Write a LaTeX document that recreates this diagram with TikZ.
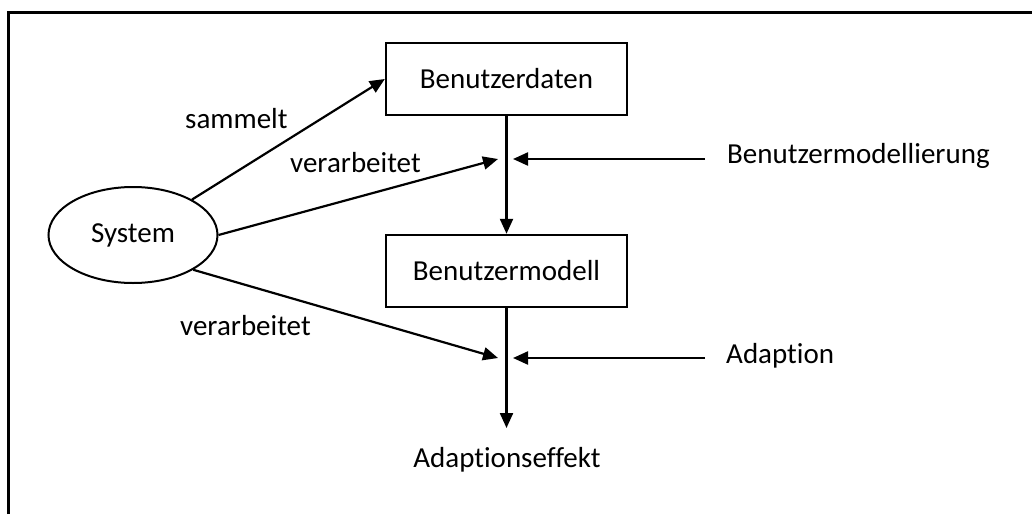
\documentclass[tikz,border=0pt]{standalone}
\usepackage{fontspec}
\setmainfont[Ligatures={NoCommon}]{Carlito}
\usetikzlibrary{arrows.meta,shapes.geometric}
\begin{document}
\begin{tikzpicture}[x=1pt,y=-1pt,
  every node/.style={font=\fontsize{29}{34}\selectfont},
  box/.style={draw,line width=2.4pt,minimum width=241pt,minimum height=72pt,inner sep=0pt},
  oval/.style={draw,ellipse,line width=2pt,minimum width=169pt,minimum height=96pt,inner sep=0pt},
  lbl/.style={inner sep=0pt},
  flow/.style={line width=2.2pt,-{Triangle[length=15pt,width=13pt]}}]
\useasboundingbox (0,0) rectangle (1032,514);
% open frame: left and top edges only
\draw[line width=3pt] (8.5,514) -- (8.5,12) -- (1032,12);

% main nodes
\node[oval] (sys) at (133,235) {System};
\node[box] (bd) at (506.5,79) {Benutzerdaten};
\node[box] (bm) at (506.5,271) {Benutzermodell};
\node[lbl,anchor=base] (eff) at (507,467) {Adaptionseffekt};

% side processes
\node[lbl,anchor=base west] (bml) at (727,163) {Benutzermodellierung};
\node[lbl,anchor=base west] (ada) at (726,363) {Adaption};
\coordinate (bmlS) at (705,159);
\coordinate (adaS) at (705,358);
\coordinate (bmlT) at (513,159);
\coordinate (adaT) at (513,358);
\coordinate (upT) at (498,159);
\coordinate (loT) at (498,358);
\coordinate (effT) at (506.5,428);

% edge labels
\node[lbl,anchor=base west] (lsam) at (185,128) {sammelt};
\node[lbl,anchor=base west] (lver1) at (290,172) {verarbeitet};
\node[lbl,anchor=base west] (lver2) at (180,335) {verarbeitet};

% connectors
\draw[flow] (sys.31) -- (bd.west);
\draw[flow] (sys.east) -- (upT);
\draw[flow] (sys.-30) -- (loT);
\draw[flow] (bd.south) -- (bm.north);
\draw[flow] (bm.south) -- (effT);
\draw[flow] (bmlS) -- (bmlT);
\draw[flow] (adaS) -- (adaT);
\end{tikzpicture}
\end{document}
